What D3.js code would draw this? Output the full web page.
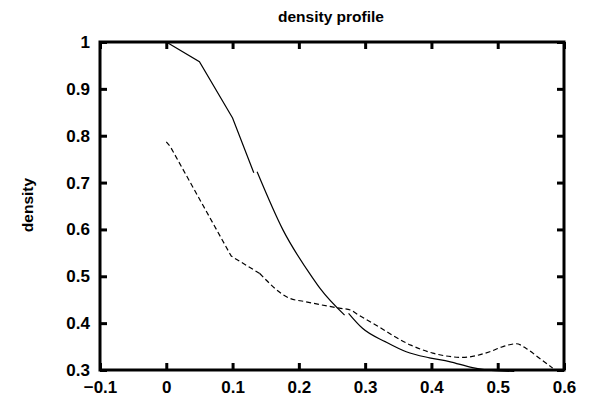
<!DOCTYPE html>
<html><head><meta charset="utf-8">
<script src="https://cdn.jsdelivr.net/npm/d3@7"></script>
<style>body{margin:0;background:#fff}</style>
</head><body>
<script>
const title = "density profile";
const yLabel = "density";
const xTicks = [-0.1, 0, 0.1, 0.2, 0.3, 0.4, 0.5, 0.6];
const yTicks = [0.3, 0.4, 0.5, 0.6, 0.7, 0.8, 0.9, 1];
// solid curve, drawn in three pieces
const solidA = [[0,1],[0.05,0.958],[0.1,0.838],[0.132,0.721]];
const solidB = [[0.137,0.723],[0.176,0.599],[0.221,0.496],[0.232,0.474],[0.269,0.417]];
const solidC = [[0.275,0.421],[0.296,0.389],[0.331,0.360],[0.362,0.339],[0.397,0.326],[0.427,0.318],[0.462,0.305],[0.49,0.299],[0.525,0.297]];
// dashed curve
const dashedX = [0,0.006,0.098,0.141,0.186,0.209,0.261,0.278,0.286,0.316,0.369,0.402,0.447,0.488,0.508,0.528,0.543,0.563,0.583];
const dashedY = [0.787,0.777,0.543,0.506,0.453,0.446,0.432,0.428,0.421,0.396,0.353,0.336,0.327,0.339,0.35,0.356,0.346,0.325,0.304];

const W = 589, H = 397;
const L = 100, R = 564, T = 42, B = 370;
const svg = d3.select("body").append("svg").attr("width", W).attr("height", H)
  .style("font-family", "'Liberation Sans', Arial, sans-serif");
const x = d3.scaleLinear().domain([-0.1, 0.6]).range([L, R]);
const y = d3.scaleLinear().domain([0.3, 1]).range([B, T]);
const line = d3.line().x(d => x(d[0])).y(d => y(d[1]));
const smooth = d3.line().x(d => x(d[0])).y(d => y(d[1])).curve(d3.curveMonotoneX);

svg.append("path").attr("d", line(solidA)).attr("fill", "none")
  .attr("stroke", "#000").attr("stroke-width", 1.2);
[solidB, solidC].forEach(seg => {
  svg.append("path").attr("d", smooth(seg)).attr("fill", "none")
    .attr("stroke", "#000").attr("stroke-width", 1.2);
});
const dashed = dashedX.map((v, i) => [v, dashedY[i]]);
svg.append("path").attr("d", line(dashed.slice(0, 4))).attr("fill", "none")
  .attr("stroke", "#000").attr("stroke-width", 1.2).attr("stroke-dasharray", "5,3");
svg.append("path").attr("d", smooth(dashed.slice(3))).attr("fill", "none")
  .attr("stroke", "#000").attr("stroke-width", 1.2).attr("stroke-dasharray", "5,3");

function styleAxis(g, showLabels) {
  g.select(".domain").remove();
  g.selectAll(".tick line").attr("stroke", "#000").attr("stroke-width", 3);
  g.selectAll(".tick text").attr("fill", "#000").style("font-size", "17px").style("font-weight", "bold")
    .style("display", showLabels ? null : "none");
}
svg.append("g").attr("transform", `translate(0,${B})`)
  .call(d3.axisBottom(x).tickValues(xTicks).tickSizeInner(-7).tickSizeOuter(0).tickPadding(11).tickFormat(d3.format("")))
  .call(g => styleAxis(g, true));
svg.append("g").attr("transform", `translate(0,${T})`)
  .call(d3.axisTop(x).tickValues(xTicks).tickSizeInner(-7).tickSizeOuter(0))
  .call(g => styleAxis(g, false));
svg.append("g").attr("transform", `translate(${L},0)`)
  .call(d3.axisLeft(y).tickValues(yTicks).tickSizeInner(-7).tickSizeOuter(0).tickPadding(10).tickFormat(d3.format("")))
  .call(g => styleAxis(g, true));
svg.append("g").attr("transform", `translate(${R},0)`)
  .call(d3.axisRight(y).tickValues(yTicks).tickSizeInner(-7).tickSizeOuter(0))
  .call(g => styleAxis(g, false));

svg.append("rect").attr("x", L).attr("y", T).attr("width", R - L).attr("height", B - T)
  .attr("fill", "none").attr("stroke", "#000").attr("stroke-width", 3);

svg.append("text").attr("x", 331).attr("y", 22).attr("text-anchor", "middle")
  .style("font-size", "15.5px").style("font-weight", "bold").text(title);
svg.append("text").attr("transform", `translate(33,205) rotate(-90)`)
  .attr("text-anchor", "middle").style("font-size", "15.5px").style("font-weight", "bold").text(yLabel);
</script>
</body></html>
